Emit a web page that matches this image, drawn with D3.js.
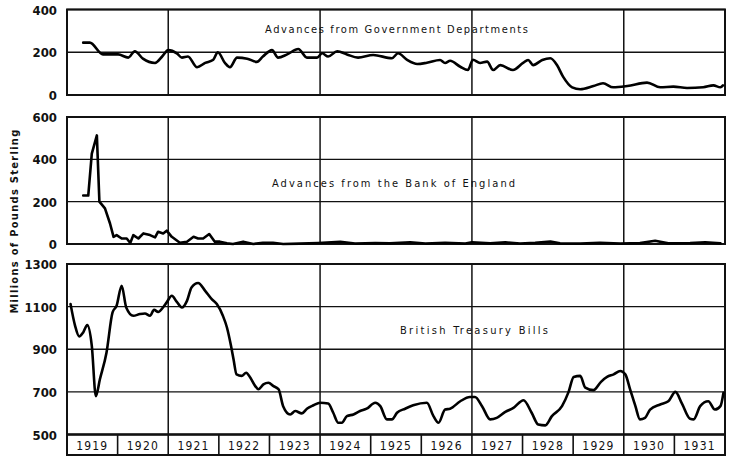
<!DOCTYPE html>
<html><head><meta charset="utf-8">
<script src="https://cdn.jsdelivr.net/npm/d3@7"></script>
<style>
html,body{margin:0;padding:0;background:#fff;}
svg{display:block;}
text{font-family:"DejaVu Sans Condensed","DejaVu Sans",sans-serif;fill:#111;}
</style></head><body>
<svg id="chart" width="729" height="458"></svg>
<script>
// ---------- DATA ----------
const years = [1919,1920,1921,1922,1923,1924,1925,1926,1927,1928,1929,1930,1931];
const majorYears = [1921,1924,1927,1930];

const govTicks = [0,200,400];
const bankTicks = [0,200,400,600];
const billTicks = [500,700,900,1100,1300];

const govDates = [1919.32,1919.45,1919.71,1920.01,1920.21,1920.34,1920.50,1920.74,1920.88,1921.00,1921.17,1921.27,1921.39,1921.57,1921.73,1921.89,1921.98,1922.12,1922.22,1922.36,1922.56,1922.75,1922.87,1923.05,1923.17,1923.35,1923.57,1923.74,1923.94,1924.04,1924.16,1924.34,1924.53,1924.75,1925.05,1925.42,1925.54,1925.72,1925.92,1926.11,1926.37,1926.47,1926.57,1926.77,1926.92,1927.02,1927.16,1927.30,1927.42,1927.56,1927.81,1928.01,1928.11,1928.21,1928.39,1928.55,1928.68,1928.80,1928.98,1929.14,1929.40,1929.59,1929.79,1930.07,1930.46,1930.72,1930.98,1931.25,1931.57,1931.77,1931.91,1931.96];
const govValues = [245,245,190,190,175,205,170,150,180,210,195,175,180,130,150,165,200,150,130,175,170,155,180,210,175,190,215,175,175,195,180,205,190,175,187,172,195,164,145,151,164,150,160,132,117,165,150,156,117,140,117,150,164,140,164,172,140,86,36,27,42,55,36,42,58,36,39,33,36,45,36,45];

const bankDates = [1919.32,1919.42,1919.49,1919.59,1919.64,1919.75,1919.85,1919.92,1919.98,1920.08,1920.18,1920.25,1920.31,1920.41,1920.51,1920.64,1920.74,1920.80,1920.90,1920.97,1921.07,1921.23,1921.37,1921.50,1921.59,1921.69,1921.81,1921.92,1922.02,1922.16,1922.28,1922.48,1922.68,1922.87,1923.07,1923.27,1923.60,1923.96,1924.40,1924.69,1925.09,1925.38,1925.78,1926.08,1926.47,1926.87,1927.00,1927.36,1927.66,1927.95,1928.25,1928.55,1928.74,1929.14,1929.53,1929.93,1930.32,1930.62,1930.88,1931.31,1931.61,1931.91];
const bankValues = [229,229,427,513,200,168,97,34,42,26,26,5,42,26,50,42,31,58,50,63,34,6,11,34,26,26,47,11,11,3,0,11,0,6,6,0,2,5,10,2,5,3,8,2,6,2,8,3,8,2,6,12,3,2,6,2,4,15,3,5,8,3];

const billDates = [1919.07,1919.16,1919.24,1919.32,1919.40,1919.49,1919.57,1919.65,1919.78,1919.90,1919.98,1920.08,1920.17,1920.31,1920.44,1920.54,1920.64,1920.72,1920.80,1920.90,1920.97,1921.07,1921.17,1921.27,1921.37,1921.46,1921.59,1921.73,1921.86,1921.96,1922.08,1922.16,1922.24,1922.29,1922.35,1922.45,1922.54,1922.62,1922.72,1922.78,1922.88,1922.98,1923.08,1923.18,1923.27,1923.41,1923.51,1923.64,1923.74,1923.87,1924.00,1924.16,1924.26,1924.36,1924.43,1924.53,1924.66,1924.79,1924.92,1925.09,1925.19,1925.32,1925.42,1925.52,1925.68,1925.84,1926.11,1926.24,1926.34,1926.47,1926.57,1926.77,1926.96,1927.06,1927.20,1927.36,1927.49,1927.66,1927.82,1928.02,1928.18,1928.31,1928.45,1928.58,1928.78,1928.91,1929.01,1929.14,1929.24,1929.40,1929.55,1929.67,1929.80,1929.93,1930.03,1930.13,1930.23,1930.32,1930.42,1930.52,1930.72,1930.88,1931.02,1931.15,1931.31,1931.38,1931.51,1931.67,1931.80,1931.91,1931.97];
const billValues = [1112,1010,960,979,1013,916,680,759,884,1073,1104,1198,1096,1057,1065,1068,1057,1085,1075,1097,1120,1151,1122,1096,1127,1190,1211,1174,1135,1112,1057,1002,916,853,782,775,790,767,727,712,735,743,727,712,633,594,610,599,621,637,649,645,602,555,555,586,594,610,621,649,633,571,571,602,621,637,649,586,555,617,621,656,676,676,633,571,578,606,625,661,602,547,543,586,633,700,770,775,720,708,747,770,782,798,782,708,633,571,578,617,641,656,700,645,574,571,633,656,617,633,696];

const panelTitles = ["Advances from Government Departments","Advances from the Bank of England","British Treasury Bills"];
const yAxisTitle = "Millions of Pounds Sterling";

// ---------- LAYOUT ----------
const svg = d3.select("#chart");
const x = d3.scaleLinear().domain([1919,1932]).range([67,725]);

const panels = [
  {dates:govDates, values:govValues, ticks:govTicks, domain:[0,400], range:[95,9.5], title:panelTitles[0], tx:[265,528], ty:33, curve:d3.curveMonotoneX},
  {dates:bankDates, values:bankValues, ticks:bankTicks, domain:[0,600], range:[244,117], title:panelTitles[1], tx:[272,515], ty:187, curve:d3.curveLinear},
  {dates:billDates, values:billValues, ticks:billTicks, domain:[500,1300], range:[434.5,264], title:panelTitles[2], tx:[400,548], ty:334, curve:d3.curveMonotoneX}
];

panels.forEach(p=>{
  const y = d3.scaleLinear().domain(p.domain).range(p.range);
  const g = svg.append("g");
  g.append("g").selectAll("line").data(p.ticks).join("line")
    .attr("x1",x(1919)).attr("x2",x(1932))
    .attr("y1",d=>y(d)).attr("y2",d=>y(d))
    .attr("stroke","#111").attr("stroke-width",1.4);
  g.append("g").selectAll("line").data(majorYears).join("line")
    .attr("x1",d=>x(d)).attr("x2",d=>x(d))
    .attr("y1",y(p.domain[1])).attr("y2",y(p.domain[0]))
    .attr("stroke","#111").attr("stroke-width",1.5);
  g.append("rect").attr("x",x(1919)).attr("y",y(p.domain[1]))
    .attr("width",x(1932)-x(1919)).attr("height",y(p.domain[0])-y(p.domain[1]))
    .attr("fill","none").attr("stroke","#111").attr("stroke-width",2);
  const axis = d3.axisLeft(y).tickValues(p.ticks).tickFormat(d3.format("d")).tickSize(0).tickPadding(0);
  const ag = g.append("g").attr("transform","translate(57,0)").call(axis);
  ag.select(".domain").remove();
  ag.selectAll("text").attr("font-family","'DejaVu Sans Condensed','DejaVu Sans',sans-serif")
    .attr("font-size",13).attr("font-weight","bold").attr("fill","#111").attr("dy","0.35em");
  g.append("text").attr("x",p.tx[0]).attr("y",p.ty)
    .attr("font-size",11).attr("textLength",p.tx[1]-p.tx[0]).attr("lengthAdjust","spacing")
    .text(p.title);
  const data = p.dates.map((d,i)=>[d,p.values[i]]);
  g.append("path").datum(data)
    .attr("fill","none").attr("stroke","#000").attr("stroke-width",2.6)
    .attr("stroke-linejoin","round").attr("stroke-linecap","round")
    .attr("d",d3.line().curve(p.curve).x(d=>x(d[0])).y(d=>y(d[1])));
});

// year band
const bandTop = 434.5, bandBot = 455;
const band = svg.append("g");
band.append("rect").attr("x",x(1919)).attr("y",bandTop).attr("width",x(1932)-x(1919)).attr("height",bandBot-bandTop)
  .attr("fill","none").attr("stroke","#111").attr("stroke-width",2);
band.selectAll("line.div").data(years.slice(1)).join("line").attr("class","div")
  .attr("x1",d=>x(d)).attr("x2",d=>x(d)).attr("y1",bandTop).attr("y2",bandBot)
  .attr("stroke","#111").attr("stroke-width",1.6);
band.selectAll("text").data(years).join("text")
  .attr("x",d=>x(d+0.5)).attr("y",449.5).attr("text-anchor","middle")
  .attr("font-size",12).attr("letter-spacing","1.2px").text(d=>d);

// y axis title
svg.append("text").attr("transform","translate(18,221) rotate(-90)")
  .attr("text-anchor","middle").attr("font-size",11).attr("font-weight","bold")
  .attr("letter-spacing","1.3px").text(yAxisTitle);
</script>
</body></html>
